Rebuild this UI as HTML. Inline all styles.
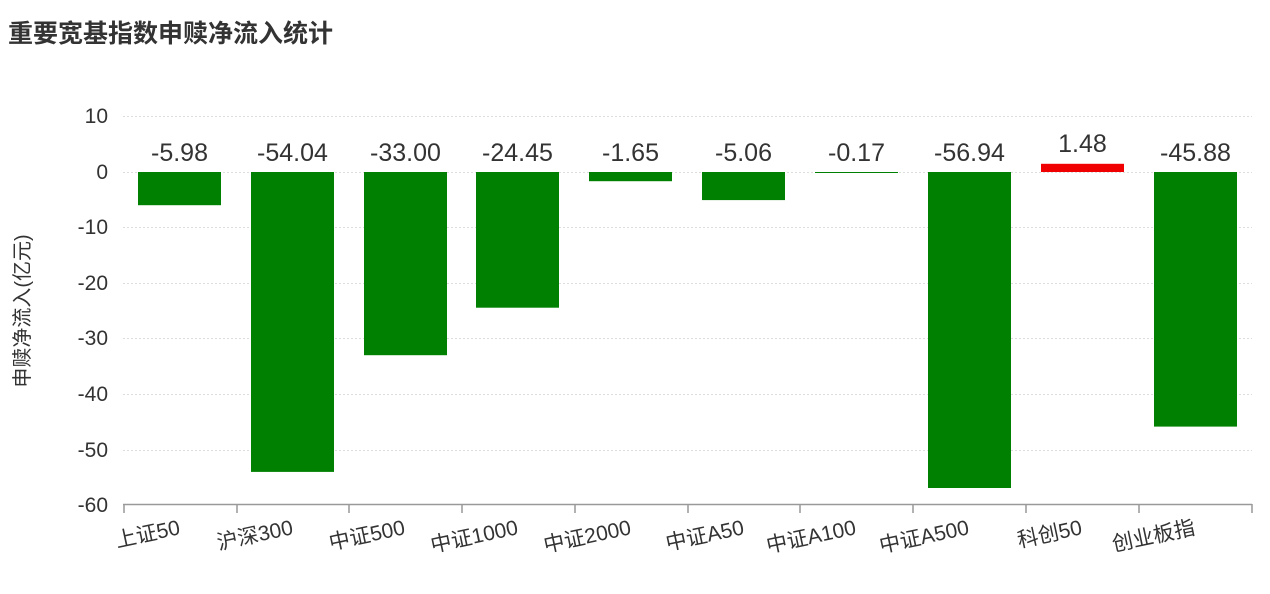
<!DOCTYPE html>
<html><head><meta charset="utf-8"><style>
html,body{margin:0;padding:0;background:#fff;}
svg{display:block;font-family:"Liberation Sans","Noto Sans CJK SC",sans-serif;}
</style></head><body>
<svg width="1270" height="594" viewBox="0 0 1270 594">
<text x="8" y="42" font-size="25" font-weight="bold" fill="#333">重要宽基指数申赎净流入统计</text>
<g stroke="#ddd" stroke-dasharray="2,2" stroke-width="1">
<line x1="123" x2="1252" y1="116.5" y2="116.5"/>
<line x1="123" x2="1252" y1="172.5" y2="172.5"/>
<line x1="123" x2="1252" y1="227.5" y2="227.5"/>
<line x1="123" x2="1252" y1="283.5" y2="283.5"/>
<line x1="123" x2="1252" y1="338.5" y2="338.5"/>
<line x1="123" x2="1252" y1="394.5" y2="394.5"/>
<line x1="123" x2="1252" y1="450.5" y2="450.5"/>
</g>
<g font-size="21" fill="#333" text-anchor="end">
<text x="108" y="123">10</text>
<text x="108" y="179">0</text>
<text x="108" y="234">-10</text>
<text x="108" y="290">-20</text>
<text x="108" y="345">-30</text>
<text x="108" y="401">-40</text>
<text x="108" y="457">-50</text>
<text x="108" y="512">-60</text>
</g>
<text transform="translate(29,311) rotate(-90)" font-size="20" fill="#333" text-anchor="middle">申赎净流入(亿元)</text>
<g fill="#008000">
<rect x="138" y="172" width="83" height="33.2"/>
<rect x="251" y="172" width="83" height="299.9"/>
<rect x="364" y="172" width="83" height="183.2"/>
<rect x="476" y="172" width="83" height="135.7"/>
<rect x="589" y="172" width="83" height="9.2"/>
<rect x="702" y="172" width="83" height="28.1"/>
<rect x="815" y="172" width="83" height="1"/>
<rect x="928" y="172" width="83" height="316"/>
<rect x="1154" y="172" width="83" height="254.6"/>
</g>
<rect x="1041" y="163.8" width="83" height="8.2" fill="#f00000"/>
<g font-size="25" fill="#333" text-anchor="middle">
<text x="179.5" y="161">-5.98</text>
<text x="292.5" y="161">-54.04</text>
<text x="405.5" y="161">-33.00</text>
<text x="517.5" y="161">-24.45</text>
<text x="630.5" y="161">-1.65</text>
<text x="743.5" y="161">-5.06</text>
<text x="856.5" y="161">-0.17</text>
<text x="969.5" y="161">-56.94</text>
<text x="1082.5" y="152">1.48</text>
<text x="1195.5" y="161">-45.88</text>
</g>
<line x1="123" x2="1252" y1="504.5" y2="504.5" stroke="#999" stroke-width="1.5"/>
<g stroke="#999" stroke-width="1.5">
<line x1="124" x2="124" y1="504" y2="513"/><line x1="237" x2="237" y1="504" y2="513"/>
<line x1="349" x2="349" y1="504" y2="513"/><line x1="462" x2="462" y1="504" y2="513"/>
<line x1="575" x2="575" y1="504" y2="513"/><line x1="688" x2="688" y1="504" y2="513"/>
<line x1="800" x2="800" y1="504" y2="513"/><line x1="913" x2="913" y1="504" y2="513"/>
<line x1="1026" x2="1026" y1="504" y2="513"/><line x1="1139" x2="1139" y1="504" y2="513"/>
<line x1="1252" x2="1252" y1="504" y2="513"/>
</g>
<g font-size="21" fill="#333" text-anchor="end">
<text transform="translate(181,534) rotate(-12)">上证50</text>
<text transform="translate(294,534) rotate(-12)">沪深300</text>
<text transform="translate(406,534) rotate(-12)">中证500</text>
<text transform="translate(519,534) rotate(-12)">中证1000</text>
<text transform="translate(632,534) rotate(-12)">中证2000</text>
<text transform="translate(745,534) rotate(-12)">中证A50</text>
<text transform="translate(857,534) rotate(-12)">中证A100</text>
<text transform="translate(970,534) rotate(-12)">中证A500</text>
<text transform="translate(1083,534) rotate(-12)">科创50</text>
<text transform="translate(1196,534) rotate(-12)">创业板指</text>
</g>
</svg>
</body></html>
